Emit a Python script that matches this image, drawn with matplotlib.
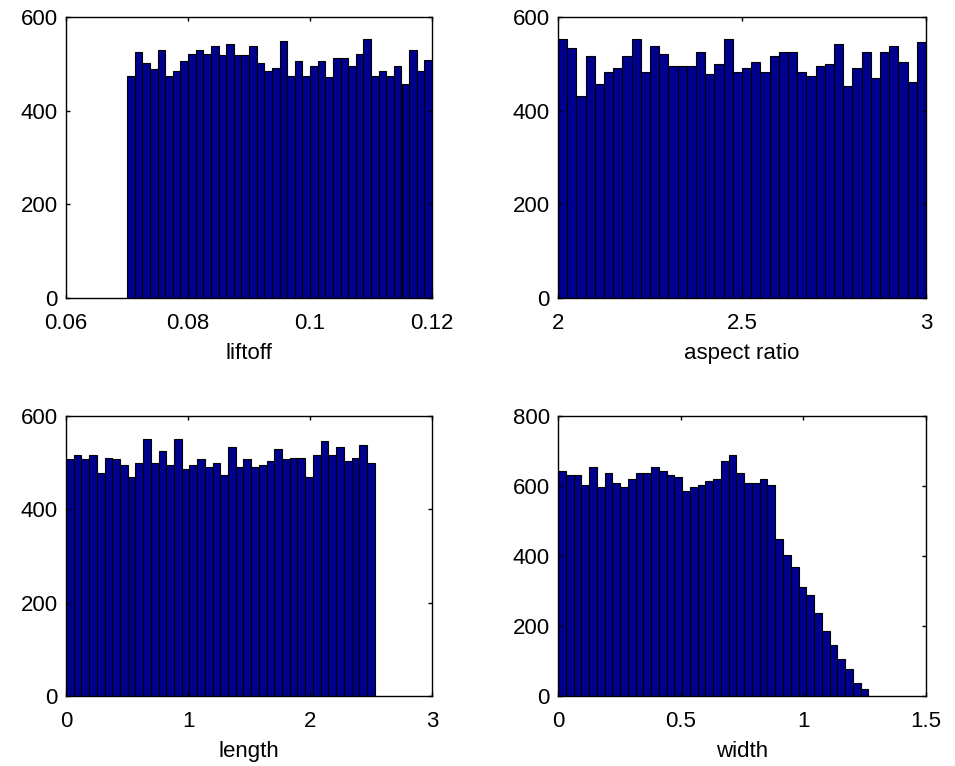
import numpy as np
import matplotlib
matplotlib.use("Agg")
import matplotlib.pyplot as plt
from matplotlib.ticker import FormatStrFormatter

plt.rcParams['font.family'] = ['Liberation Sans', 'DejaVu Sans']

# ---- data (bin counts) ----
liftoff_range = (0.07, 0.12)
liftoff_counts = [475, 525, 501, 488, 530, 475, 484, 505, 522, 530,
                  522, 539, 518, 543, 518, 518, 539, 501, 484, 492,
                  548, 475, 505, 475, 496, 505, 471, 513, 513, 496,
                  522, 552, 475, 484, 475, 496, 458, 530, 484, 509]

aspect_range = (2.0, 3.0)
aspect_counts = [554, 533, 431, 516, 457, 482, 491, 516, 554, 482,
                 538, 521, 495, 495, 495, 525, 478, 499, 554, 482,
                 491, 504, 482, 516, 525, 525, 482, 474, 495, 499,
                 542, 452, 491, 525, 470, 525, 538, 504, 461, 546]

length_range = (0.0, 2.53)
length_counts = [507, 516, 507, 516, 477, 511, 507, 494, 469, 499,
                 550, 499, 524, 494, 550, 486, 494, 507, 490, 499,
                 473, 533, 490, 507, 490, 494, 503, 529, 507, 511,
                 511, 469, 516, 546, 516, 533, 503, 511, 537, 499]

width_range = (0.0, 1.265)
width_counts = [642, 631, 631, 602, 654, 598, 637, 608, 598, 619,
                637, 637, 654, 642, 631, 625, 585, 598, 602, 614,
                619, 671, 688, 637, 608, 608, 619, 602, 448, 403,
                369, 312, 289, 238, 186, 146, 106, 78, 38, 21]

panels = [
    dict(label='liftoff', rng=liftoff_range, counts=liftoff_counts,
         xlim=(0.06, 0.12), xticks=[0.06, 0.08, 0.1, 0.12],
         ylim=(0, 600), yticks=[0, 200, 400, 600]),
    dict(label='aspect ratio', rng=aspect_range, counts=aspect_counts,
         xlim=(2, 3), xticks=[2, 2.5, 3],
         ylim=(0, 600), yticks=[0, 200, 400, 600]),
    dict(label='length', rng=length_range, counts=length_counts,
         xlim=(0, 3), xticks=[0, 1, 2, 3],
         ylim=(0, 600), yticks=[0, 200, 400, 600]),
    dict(label='width', rng=width_range, counts=width_counts,
         xlim=(0, 1.5), xticks=[0, 0.5, 1, 1.5],
         ylim=(0, 800), yticks=[0, 200, 400, 600, 800]),
]

W, H = 955, 766
fig = plt.figure(figsize=(W / 100, H / 100), dpi=100)

# axes boxes in pixels: (left, top, right, bottom)
boxes = [(66, 17, 432, 298), (558, 17, 926, 298),
         (66, 416, 432, 696), (558, 416, 926, 696)]

for p, (l, t, r, b) in zip(panels, boxes):
    ax = fig.add_axes([l / W, 1 - b / H, (r - l) / W, (b - t) / H])
    n = len(p['counts'])
    edges = np.linspace(p['rng'][0], p['rng'][1], n + 1)
    ax.bar(edges[:-1], p['counts'], width=np.diff(edges), align='edge',
           color='#00008F', edgecolor='black', linewidth=0.8)
    ax.set_xlim(*p['xlim'])
    ax.set_ylim(*p['ylim'])
    ax.set_xticks(p['xticks'])
    ax.set_yticks(p['yticks'])
    ax.xaxis.set_major_formatter(FormatStrFormatter('%g'))
    ax.yaxis.set_major_formatter(FormatStrFormatter('%g'))
    ax.tick_params(direction='in', top=True, right=True, length=3, width=1,
                   labelsize=16, colors='black')
    ax.tick_params(axis='x', pad=11)
    ax.tick_params(axis='y', pad=6)
    for s in ax.spines.values():
        s.set_linewidth(1.0)
        s.set_color('black')
    ax.set_xlabel(p['label'], fontsize=16, labelpad=6)

fig.savefig('out.png', dpi=100)
